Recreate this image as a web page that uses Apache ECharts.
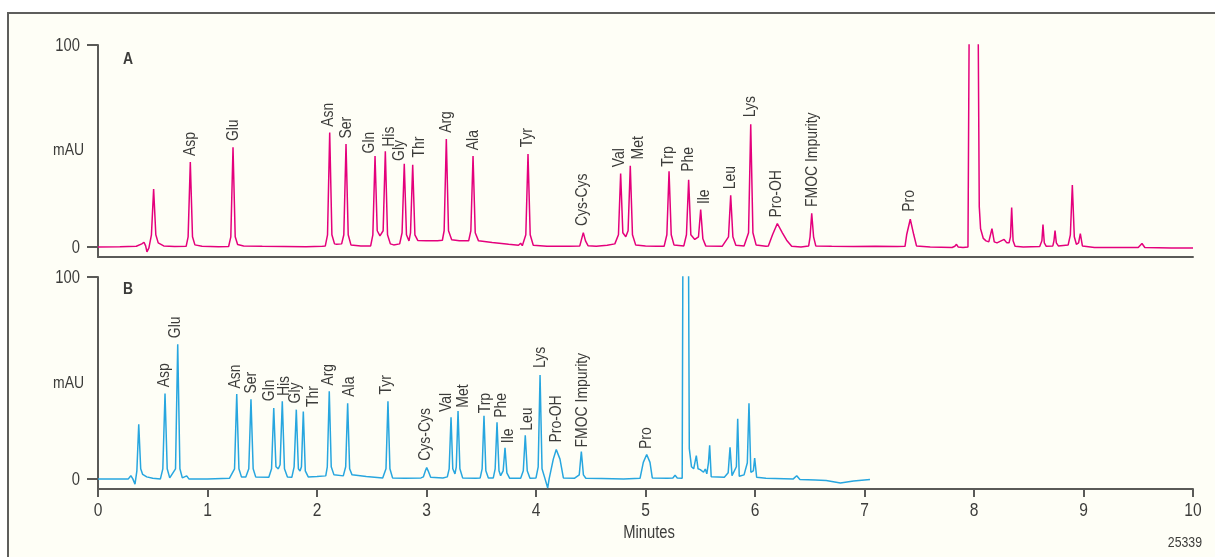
<!DOCTYPE html>
<html><head><meta charset="utf-8">
<script src="https://cdn.jsdelivr.net/npm/echarts@6/dist/echarts.min.js"></script>
<style>
html,body{margin:0;padding:0;background:#ffffff;width:1215px;height:557px;overflow:hidden}
#frame{position:absolute;left:7px;top:12px;width:1210px;height:548px;border-left:2px solid #5e5e5c;border-top:2px solid #5e5e5c;background:#fefef6}
#chart{position:absolute;left:0;top:0;width:1215px;height:557px}
</style></head>
<body><div id="frame"></div><div id="chart"></div>
<script>
// ---- data (minutes, mAU) ----
const xTicks = [0,1,2,3,4,5,6,7,8,9,10];
const yTicks = [0,100];
const traceA = [
[0,0],[0.2,0.1],[0.35,0.3],[0.40,1.5],[0.42,2.3],[0.435,0.5],[0.447,-2.5],[0.465,-0.5],[0.488,6],[0.508,28.6],[0.528,6],[0.55,2],[0.6,0.5],[0.7,0.2],
[0.805,0.3],[0.823,5],[0.843,42],[0.863,5],[0.885,1],[0.95,0.3],[1.1,0.1],
[1.193,0.2],[1.213,5],[1.233,49.4],[1.253,5],[1.275,1.2],[1.33,0.5],[1.5,0.3],[1.7,0.2],[1.9,0.1],[2.05,0.3],
[2.076,0.5],[2.096,6],[2.116,56.7],[2.136,6],[2.16,1.5],[2.18,1.3],
[2.225,1.5],[2.245,6],[2.265,51],[2.285,6],[2.31,1],[2.40,0.5],[2.49,0.5],
[2.51,6],[2.530,45],[2.55,8],[2.575,5.5],
[2.604,8],[2.624,47.4],[2.644,6],[2.67,1.5],[2.70,1],[2.755,1.5],
[2.777,7],[2.797,41.2],[2.817,6],[2.84,3],
[2.854,7],[2.874,40.7],[2.894,6],[2.92,3.2],[3.0,3],[3.1,3],[3.145,3.3],
[3.161,8],[3.181,53.4],[3.201,8],[3.23,3.5],[3.3,3],[3.385,3],
[3.405,8],[3.425,45],[3.445,7],[3.475,3],[3.6,2.2],[3.75,1.3],[3.84,0.8],[3.86,1.8],[3.875,0.6],[3.89,0.6],
[3.907,6],[3.927,46],[3.947,6],[3.975,0.8],[4.1,0.3],[4.3,0.3],[4.40,0.5],
[4.412,3],[4.432,7.1],[4.452,3],[4.475,0.6],[4.55,0.3],[4.65,0.8],[4.72,1.5],
[4.753,6],[4.773,36.4],[4.793,7],[4.82,5],
[4.841,8],[4.861,40.2],[4.881,6],[4.91,1],[5.0,0.5],[5.1,0.3],[5.17,0.3],
[5.195,6],[5.215,37.4],[5.235,6],[5.26,1],[5.35,0.5],
[5.374,6],[5.394,33.2],[5.414,6],[5.45,3.7],
[5.484,5],[5.504,18.5],[5.524,4],[5.55,0.5],[5.70,0.3],
[5.758,5],[5.778,25.6],[5.798,5],[5.825,0.8],[5.90,0.5],
[5.941,7],[5.961,60.8],[5.981,7],[6.01,1],[6.10,0.3],
[6.122,0.5],[6.16,6],[6.204,11.6],[6.25,7],[6.289,3.3],[6.335,0.3],[6.42,0],
[6.49,0.5],[6.503,5],[6.518,16.6],[6.535,5],[6.555,0.5],[6.7,0.3],[6.9,0.2],[7.1,0.3],[7.3,0.2],
[7.37,0.3],[7.385,6],[7.418,13.7],[7.45,6],[7.475,0.5],[7.6,0],[7.8,-0.3],
[7.825,0.3],[7.84,1.3],[7.855,0],[7.9,-0.3],[7.945,0],
[7.995,500],[8.048,20],[8.06,9],[8.085,4.2],[8.11,3],[8.135,2.5],
[8.145,3],[8.164,9],[8.185,2.5],[8.21,2],[8.275,3.7],[8.30,2],
[8.32,2],[8.333,5],[8.344,19.5],[8.357,3],[8.375,0.3],[8.45,0],[8.60,0.2],
[8.61,0.3],[8.62,3],[8.630,11.1],[8.642,2],[8.66,0.3],
[8.72,0.5],[8.73,3],[8.740,8.1],[8.752,2],[8.77,0.5],
[8.86,1],[8.88,6],[8.898,30.6],[8.916,5],[8.935,1.3],[8.955,2],[8.971,6.6],[8.99,0.5],
[9.1,-0.3],[9.3,-0.3],[9.5,-0.3],[9.534,1.7],[9.56,-0.3],[9.8,-0.5],[10,-0.5]
];
const traceB = [
[0,0],[0.2,0],[0.277,0],[0.30,1.6],[0.318,0],[0.338,-2.6],[0.355,4],[0.372,27],[0.39,5],[0.408,2.2],[0.445,1],[0.5,0.3],[0.57,0],
[0.592,5],[0.612,42.3],[0.632,5],[0.655,0.5],[0.673,0],
[0.708,5],[0.728,66.7],[0.748,5],[0.77,0.5],[0.81,1.5],[0.83,0],[1.0,0],[1.2,0.3],
[1.247,5],[1.267,42],[1.287,5],[1.31,1],[1.35,1],
[1.377,5],[1.397,39.5],[1.417,5],[1.44,1],[1.56,0.8],
[1.585,5],[1.605,35.1],[1.625,6],[1.647,5],
[1.663,7],[1.683,38.5],[1.703,5],[1.73,1],[1.77,0.8],
[1.791,6],[1.811,34.3],[1.83,5],[1.845,3.9],
[1.858,6],[1.875,33.4],[1.893,4],[1.92,1],[2.0,1.2],[2.08,1.5],
[2.094,6],[2.112,43.4],[2.13,6],[2.155,2],[2.24,1.5],
[2.262,6],[2.280,37.5],[2.298,5],[2.32,2],[2.45,1.2],[2.6,0.5],
[2.63,5],[2.648,38.4],[2.666,5],[2.69,0.5],[2.8,0.3],[2.95,0.5],
[2.971,1],[2.99,4],[3.002,5.6],[3.015,4],[3.038,0.8],[3.15,0.5],[3.19,1],
[3.207,5],[3.224,30.5],[3.24,5],[3.26,2.5],
[3.272,6],[3.288,33.6],[3.305,5],[3.33,0.5],[3.45,0.3],[3.49,0.5],
[3.508,5],[3.525,31.3],[3.542,4],[3.565,0.5],[3.61,0.5],
[3.627,5],[3.644,28],[3.662,4],[3.677,1.6],
[3.70,4],[3.717,15.4],[3.734,3],[3.76,0.3],[3.86,0.3],
[3.884,4],[3.902,21.6],[3.92,4],[3.945,0.3],[4.0,0.5],
[4.02,6],[4.037,51.5],[4.055,5],[4.08,0.5],[4.095,0],[4.107,-4.5],[4.12,0],[4.137,0.3],
[4.158,9.8],[4.185,14.6],[4.219,9.8],[4.25,0.5],[4.35,0.3],
[4.395,2],[4.414,13.6],[4.433,2],[4.455,0.3],[4.6,0.2],[4.8,0],[4.95,0.3],
[4.965,0.5],[4.98,8.2],[5.011,12.1],[5.041,8.2],[5.062,0.5],[5.2,0.3],[5.25,0.5],[5.27,1.8],[5.29,0.5],[5.335,0.3],
[5.364,500],[5.40,15],[5.42,6],[5.44,5],[5.464,11.5],[5.48,5],[5.50,4.6],[5.53,3.3],[5.546,4.9],[5.56,2.5],[5.575,8],[5.586,16.7],[5.60,1.1],[5.72,0.8],
[5.755,3],[5.772,15.6],[5.79,1.6],[5.83,6],[5.842,29.8],[5.856,1.3],[5.90,2],[5.93,8],[5.945,37.4],[5.962,3.3],[5.985,4],[5.997,10.3],[6.015,0.8],
[6.1,0.3],[6.35,0],[6.381,1.6],[6.41,-0.3],[6.55,-0.5],[6.65,-0.8],[6.78,-2],[6.9,-1],[7.05,-0.3]
];
// peak names with label anchor (minutes, mAU)
const labelsA = [
['Asp',0.840,45.0],['Glu',1.236,52.4],['Asn',2.103,59.5],['Ser',2.271,53.7],['Gln',2.478,46.3],
['His',2.660,49.6],['Gly',2.751,42.6],['Thr',2.934,44.3],['Arg',3.184,56.5],['Ala',3.428,47.9],
['Tyr',3.924,49.3],['Cys-Cys',4.426,10.3],['Val',4.761,39.4],['Met',4.938,43.3],['Trp',5.208,39.7],
['Phe',5.391,37.2],['Ile',5.534,21.2],['Leu',5.772,28.5],['Lys',5.961,64.2],['Pro-OH',6.192,14.6],
['FMOC Impurity',6.527,19.8],['Pro',7.409,17.4]
];
const labelsB = [
['Asp',0.606,45.4],['Glu',0.709,69.7],['Asn',1.251,44.8],['Ser',1.403,42.3],['Gln',1.565,38.5],
['His',1.699,41.0],['Gly',1.805,37.4],['Thr',1.966,35.6],['Arg',2.103,46.2],['Ala',2.295,40.7],
['Tyr',2.636,41.8],['Cys-Cys',2.986,9.0],['Val',3.178,33.1],['Met',3.336,35.3],['Trp',3.534,32.5],
['Phe',3.687,30.3],['Ile',3.747,17.7],['Leu',3.921,23.8],['Lys',4.037,54.9],['Pro-OH',4.183,18.0],
['FMOC Impurity',4.426,15.6],['Pro',5.005,14.8]
];
const panelNames = ['A','B'];
const yName = 'mAU';
const xName = 'Minutes';
const figId = '25339';

// ---- chart ----
const FONT = "'Liberation Sans',Arial,sans-serif";
const SQ = 0.82; // horizontal squeeze to imitate a condensed face
const AX = '#5a5a57';
const TXT = '#3c3c3a';
const chart = echarts.init(document.getElementById('chart'), null, {renderer:'canvas'});
function yAx(i){
  return {gridIndex:i,type:'value',min:-5,max:100,
    axisLine:{show:true,onZero:false,lineStyle:{color:AX,width:2}},
    axisTick:{show:true,customValues:yTicks,length:11,inside:false,lineStyle:{color:AX,width:2}},
    axisLabel:{show:false},splitLine:{show:false}};
}
function peakLabels(arr,i){
  return {type:'custom',xAxisIndex:i,yAxisIndex:i,silent:true,clip:false,
    data:arr.map(d=>[d[1],d[2]]),
    renderItem:(params,api)=>{
      const p = api.coord([api.value(0),api.value(1)]);
      return {type:'text',x:p[0],y:p[1],rotation:Math.PI/2,scaleX:SQ,
        style:{text:arr[params.dataIndex][0],font:'17px '+FONT,fill:TXT,align:'left',verticalAlign:'middle'}};
    }};
}
function yTickLabels(i){
  return {type:'custom',xAxisIndex:i,yAxisIndex:i,silent:true,clip:false,
    data:yTicks.map(v=>[0,v]),
    renderItem:(params,api)=>{
      const p = api.coord([api.value(0),api.value(1)]);
      return {type:'text',x:p[0]-18,y:p[1]+1,scaleX:SQ,
        style:{text:String(yTicks[params.dataIndex]),font:'18px '+FONT,fill:TXT,align:'right',verticalAlign:'middle'}};
    }};
}
function xTickLabels(i){
  return {type:'custom',xAxisIndex:i,yAxisIndex:i,silent:true,clip:false,
    data:xTicks.map(v=>[v,-5]),
    renderItem:(params,api)=>{
      const p = api.coord([api.value(0),api.value(1)]);
      return {type:'text',x:p[0],y:p[1]+22,scaleX:SQ,
        style:{text:String(xTicks[params.dataIndex]),font:'19px '+FONT,fill:TXT,align:'center',verticalAlign:'middle'}};
    }};
}
function gText(txt,x,y,font,align){
  return {type:'text',x:x,y:y,scaleX:SQ,silent:true,
    style:{text:txt,font:font,fill:TXT,align:align,verticalAlign:'middle'}};
}
chart.setOption({
  animation:false,
  backgroundColor:'transparent',
  grid:[{left:98,top:45,width:1095,height:212},{left:98,top:277,width:1095,height:212}],
  xAxis:[
    {gridIndex:0,type:'value',min:0,max:10,interval:1,
     axisLine:{show:true,onZero:false,lineStyle:{color:AX,width:2}},
     axisTick:{show:false},axisLabel:{show:false},splitLine:{show:false}},
    {gridIndex:1,type:'value',min:0,max:10,interval:1,
     axisLine:{show:true,onZero:false,lineStyle:{color:AX,width:2}},
     axisTick:{show:true,length:8,lineStyle:{color:AX,width:2}},
     axisLabel:{show:false},splitLine:{show:false}}
  ],
  yAxis:[yAx(0),yAx(1)],
  series:[
    {type:'line',xAxisIndex:0,yAxisIndex:0,data:traceA,showSymbol:false,symbol:'none',clip:true,
     lineStyle:{color:'#e4007c',width:1.5},silent:true},
    {type:'line',xAxisIndex:1,yAxisIndex:1,data:traceB,showSymbol:false,symbol:'none',clip:true,
     lineStyle:{color:'#27a6df',width:1.5},silent:true},
    peakLabels(labelsA,0),
    peakLabels(labelsB,1),
    yTickLabels(0),
    yTickLabels(1),
    xTickLabels(1)
  ],
  graphic:[
    gText(yName,84,150,'17px '+FONT,'right'),
    gText(yName,84,383,'17px '+FONT,'right'),
    gText(xName,649,533,'18px '+FONT,'center'),
    gText(panelNames[0],123,59,'bold 17px '+FONT,'left'),
    gText(panelNames[1],123,289,'bold 17px '+FONT,'left'),
    gText(figId,1202,543,'15px '+FONT,'right')
  ]
});
</script></body></html>
